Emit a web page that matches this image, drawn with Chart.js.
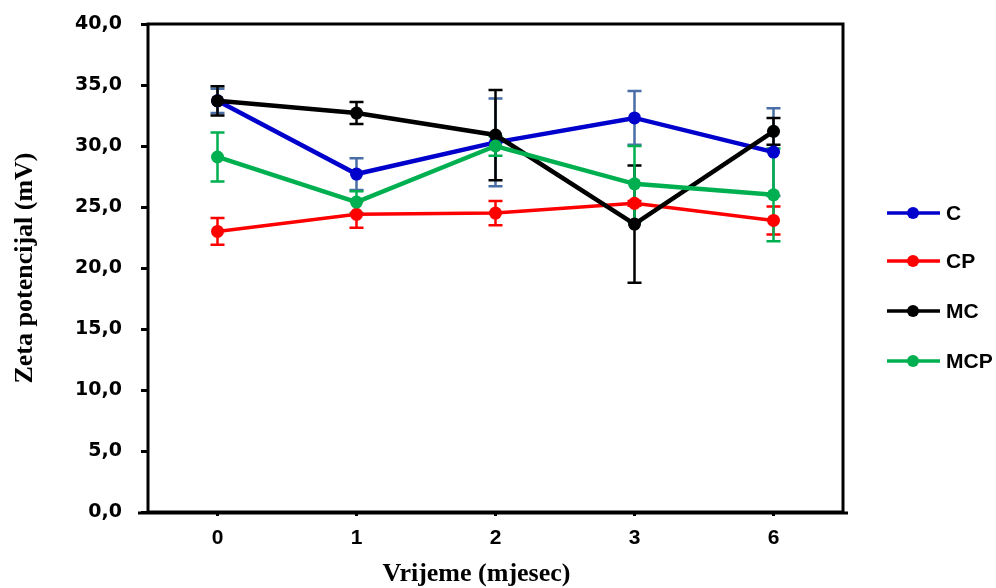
<!DOCTYPE html>
<html>
<head>
<meta charset="utf-8">
<script src="https://cdn.jsdelivr.net/npm/chart.js@4/dist/chart.umd.min.js"></script>
<style>
  html, body { margin: 0; padding: 0; background: #fff; }
  #wrap { width: 996px; height: 588px; }
</style>
</head>
<body>
<div id="wrap"><canvas id="myChart" width="996" height="588"></canvas></div>
<script>
// podaci
const months = ['0', '1', '2', '3', '6'];
const seriesNames = ['C', 'CP', 'MC', 'MCP'];
const cValues = [33.7, 27.7, 30.3, 32.3, 29.5];
const cpValues = [23.0, 24.4, 24.5, 25.3, 23.9];
const mcValues = [33.7, 32.7, 30.9, 23.6, 31.2];
const mcpValues = [29.1, 25.4, 30.0, 26.9, 26.0];
const cErr = [1.0, 1.3, 3.6, 2.2, 3.6];
const cpErr = [1.1, 1.1, 1.0, 0.2, 1.15];
const mcErr = [1.2, 0.9, 3.7, 4.8, 1.1];
const mcpErr = [2.0, 0.9, 0.8, 3.1, 3.8];
const yTicks = [0, 5, 10, 15, 20, 25, 30, 35, 40];

const lineColors = ['#0000cc', '#ff0000', '#000000', '#00b050'];
const errColors = ['#4a6ea6', '#ff0000', '#000000', '#00b050'];

const allValues = [cValues, cpValues, mcValues, mcpValues];
const allErrors = [cErr, cpErr, mcErr, mcpErr];

// crtanje error barova, okvira, naslova x osi i legende
const errorBars = {
    id: 'errorBars',
    beforeDatasetsDraw(chart){
        const ctx = chart.ctx;
        const yScale = chart.scales.y;
        ctx.save();
        chart.data.datasets.forEach((ds, i) => {
            const meta = chart.getDatasetMeta(i);
            ctx.strokeStyle = errColors[i];
            ctx.lineWidth = 2.5;
            meta.data.forEach((pt, j) => {
                const v = allValues[i][j];
                const e = allErrors[i][j];
                const yTop = yScale.getPixelForValue(v + e);
                const yBot = yScale.getPixelForValue(v - e);
                ctx.beginPath();
                ctx.moveTo(pt.x, yTop); ctx.lineTo(pt.x, yBot);
                ctx.moveTo(pt.x - 7, yTop); ctx.lineTo(pt.x + 7, yTop);
                ctx.moveTo(pt.x - 7, yBot); ctx.lineTo(pt.x + 7, yBot);
                ctx.stroke();
            });
        });
        ctx.restore();
    },
    afterDraw(chart){
        const ctx = chart.ctx;
        const a = chart.chartArea;
        ctx.save();
        // okvir
        ctx.strokeStyle = '#000';
        ctx.lineWidth = 3;
        ctx.strokeRect(a.left, a.top, a.right - a.left, a.bottom - a.top);
        ctx.beginPath();
        ctx.moveTo(a.left - 10, a.bottom + 1);
        ctx.lineTo(a.right + 5, a.bottom + 1);
        ctx.stroke();

        // naslov x osi
        ctx.fillStyle = '#000';
        ctx.font = 'bold 26px "Liberation Serif"';
        ctx.textAlign = 'center';
        ctx.textBaseline = 'middle';
        ctx.fillText('Vrijeme (mjesec)', (a.left + a.right) / 2 - 19, 574);

        // legenda
        const rows = [213, 261, 311, 361];
        chart.data.datasets.forEach((ds, i) => {
            const y = rows[i];
            ctx.strokeStyle = lineColors[i];
            ctx.lineWidth = 3.5;
            ctx.beginPath();
            ctx.moveTo(887, y); ctx.lineTo(940, y);
            ctx.stroke();
            ctx.fillStyle = lineColors[i];
            ctx.beginPath();
            ctx.arc(913, y, 6, 0, Math.PI * 2);
            ctx.fill();
            ctx.fillStyle = '#000';
            ctx.font = 'bold 21px "Liberation Sans"';
            ctx.textAlign = 'left';
            ctx.fillText(ds.label, 946, y + 1);
        });
        ctx.restore();
    }
};

const datasets = seriesNames.map((name, i) => ({
    label: name,
    data: allValues[i],
    borderColor: lineColors[i],
    backgroundColor: lineColors[i],
    borderWidth: i == 1 ? 3.5 : 4.5,
    pointRadius: 6.5,
    pointHoverRadius: 6.5,
    pointBorderWidth: 0,
    tension: 0,
    order: 3 - i
}));

const ctx = document.getElementById('myChart').getContext('2d');
new Chart(ctx, {
    type: 'line',
    data: { labels: months, datasets: datasets },
    plugins: [errorBars],
    options: {
        responsive: false,
        animation: false,
        layout: { padding: { left: 0, top: 24, right: 153, bottom: 0 } },
        plugins: {
            legend: { display: false },
            tooltip: { enabled: false }
        },
        scales: {
            x: {
                type: 'category',
                offset: true,
                afterFit(scale){ scale.height = 76; scale.paddingLeft = 0; scale.paddingRight = 0; },
                border: { display: false },
                grid: { display: true, drawOnChartArea: false, drawTicks: true, tickLength: 4, color: '#000', lineWidth: 3 },
                ticks: {
                    color: '#000',
                    padding: 10,
                    font: { family: '"Liberation Sans"', weight: 'bold', size: 21 }
                }
            },
            y: {
                min: 0,
                max: 40,
                afterFit(scale){ scale.width = 148; scale.paddingTop = 0; scale.paddingBottom = 0; },
                afterBuildTicks(scale){ scale.ticks = yTicks.map(v => ({ value: v })); },
                border: { display: false },
                grid: { display: true, drawOnChartArea: false, drawTicks: true, tickLength: 7, color: '#000', lineWidth: 3 },
                title: {
                    display: true,
                    text: 'Zeta potencijal (mV)',
                    color: '#000',
                    font: { family: '"Liberation Serif"', weight: 'bold', size: 26 },
                    padding: { top: 10, bottom: 0 }
                },
                ticks: {
                    color: '#000',
                    padding: 19,
                    font: { family: '"DejaVu Sans"', weight: 'bold', size: 19 },
                    callback: v => v.toFixed(1).replace('.', ',')
                }
            }
        }
    }
});
</script>
</body>
</html>
